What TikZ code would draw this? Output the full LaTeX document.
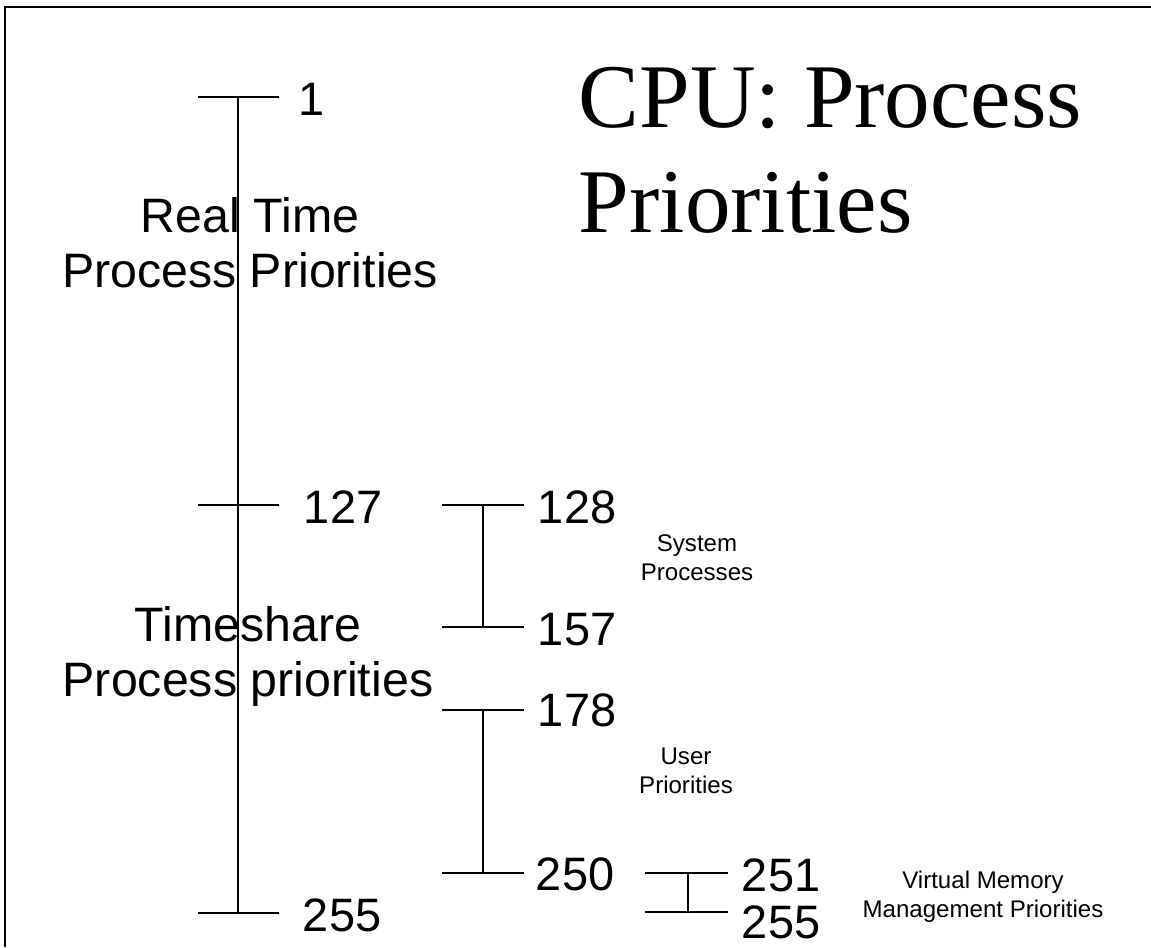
\documentclass[tikz,border=0pt]{standalone}
\usepackage{fontspec}
\setmainfont{Liberation Serif}
\setsansfont{Liberation Sans}
\usepackage{tikz}

\begin{document}
\begin{tikzpicture}[x=0.02cm, y=-0.02cm, line width=1.1pt,
  num/.style={anchor=base west, inner sep=0pt, font=\sffamily\fontsize{26.7}{30}\selectfont},
  band/.style={anchor=base, align=center, inner sep=0pt, font=\sffamily\fontsize{27.5}{31}\selectfont},
  note/.style={anchor=base, align=center, inner sep=0pt, font=\sffamily\fontsize{13.7}{16.2}\selectfont}]
\useasboundingbox (0,0) rectangle (1151,947);
\draw[line width=1.5pt] (5,947) -- (5,7) -- (1151,7);

% title
\node[anchor=base west, align=left, inner sep=0pt, font=\rmfamily\fontsize{51.8}{59.5}\selectfont] (title) at (578,232) {CPU: Process\\Priorities};

% main scale
\coordinate (a1) at (238,97);
\coordinate (a127) at (238,505);
\coordinate (a255) at (238,913);
\draw (a1) -- (a255);
\foreach \p in {a1,a127,a255}
  \draw (\p) ++(-40,0) -- ++(81,0);
\node[num] (n1) at (298,115) {1};
\node[num] (n127) at (303,523) {127};
\node[num] (n255) at (302,931) {255};
\node[band] (rt) at (250,287) {Real Time\\Process Priorities};
\node[band] (ts) at (248,696) {Timeshare\\Process priorities};

% system processes
\coordinate (b128) at (483,505);
\coordinate (b157) at (483,627);
\draw (b128) -- (b157);
\foreach \p in {b128,b157}
  \draw (\p) ++(-41,0) -- ++(82,0);
\node[num] (n128) at (537,523) {128};
\node[num] (n157) at (537,645) {157};
\node[note] (sys) at (697,580) {System\\Processes};

% user priorities
\coordinate (c178) at (483,710);
\coordinate (c250) at (483,873);
\draw (c178) -- (c250);
\foreach \p in {c178,c250}
  \draw (\p) ++(-41,0) -- ++(82,0);
\node[num] (n178) at (537,726) {178};
\node[num] (n250) at (535,890) {250};
\node[note] (usr) at (686,793) {User\\Priorities};

% virtual memory
\coordinate (d251) at (688,873);
\coordinate (d255) at (688,912);
\draw (d251) -- (d255);
\foreach \p in {d251,d255}
  \draw (\p) ++(-43,0) -- ++(83,0);
\node[num] (n251) at (741,891) {251};
\node[num] (n255b) at (741,938) {255};
\node[note] (vm) at (983,917) {Virtual Memory\\Management Priorities};
\end{tikzpicture}
\end{document}
